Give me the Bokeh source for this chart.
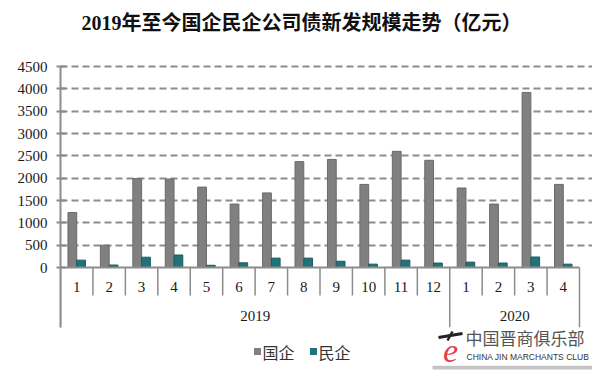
from bokeh.plotting import figure
from bokeh.models import Range1d, FixedTicker
from bokeh.core.properties import value
from bokeh.embed import file_html
from bokeh.resources import INLINE

# ---------------- data ----------------
title_text = "2019年至今国企民企公司债新发规模走势（亿元）"
months = ["1", "2", "3", "4", "5", "6", "7", "8", "9", "10", "11", "12", "1", "2", "3", "4"]
years = ["2019"] * 12 + ["2020"] * 4
soe = [1230, 500, 1990, 1980, 1800, 1420, 1670, 2370, 2420, 1860, 2600, 2400, 1780, 1420, 3920, 1860]
private = [165, 55, 230, 280, 50, 105, 210, 210, 140, 75, 165, 100, 120, 100, 235, 75]
series_names = ["国企", "民企"]
y_ticks = [0, 500, 1000, 1500, 2000, 2500, 3000, 3500, 4000, 4500]

GRAY = "#808080"
TEAL = "#22727a"

# ---------------- layout helpers (pixel -> data) ----------------
W, H = 592, 370
FL = 60                       # frame left in px
X0, XS = FL, 519.0 / 16       # px of x=0, px per category
Y0, YS = 267.0, 201.0 / 4500  # px of y=0, px per unit


def dx(px):
    return (px - X0) / XS


def dy(py):
    return (Y0 - py) / YS


n = len(months)
centers = [i + 0.5 for i in range(n)]

p = figure(width=W, height=H, output_backend="svg", toolbar_location=None,
           x_range=Range1d(0, dx(W)), y_range=Range1d(dy(H), dy(0)),
           x_axis_location=None, min_border_left=FL, min_border_right=0,
           min_border_top=0, min_border_bottom=0)
p.outline_line_color = None
p.background_fill_color = "white"
p.border_fill_color = "white"

# y axis
ax = p.yaxis[0]
ax.ticker = FixedTicker(ticks=y_ticks)
ax.bounds = (dy(327), 4500)
ax.axis_line_color = "#8c8c8c"
ax.axis_line_width = 2
ax.major_tick_line_color = "#8c8c8c"
ax.major_tick_line_width = 2
ax.major_tick_in = 5
ax.major_tick_out = 4
ax.minor_tick_line_color = None
ax.major_label_text_font = "Liberation Serif"
ax.major_label_text_font_size = "15px"
ax.major_label_text_color = "#1a1a1a"
ax.major_label_standoff = 9

p.xgrid.visible = False
g = p.ygrid[0]
g.ticker = FixedTicker(ticks=y_ticks[1:])
g.bounds = (0, n)
g.grid_line_color = "#8c8c8c"
g.grid_line_width = 2
g.grid_line_dash = "7 4"

# bars
bw = 0.27
p.vbar(x=[c - bw / 2 for c in centers], top=soe, width=bw, bottom=0,
       fill_color=GRAY, line_color="#6a6a6a", line_width=1)
p.vbar(x=[c + bw / 2 for c in centers], top=private, width=bw, bottom=0,
       fill_color=TEAL, line_color="#1a5c62", line_width=1)

# category axis: base line, separators, labels
p.segment(x0=[0], y0=[0], x1=[n], y1=[0], line_color="#8c8c8c", line_width=2)
inner = [i for i in range(1, n) if i != 12]
p.segment(x0=inner, y0=[0] * len(inner), x1=inner, y1=[dy(295)] * len(inner),
          line_color="#8c8c8c", line_width=1.5)
outer = [0, 12, n]
p.segment(x0=outer, y0=[0] * 3, x1=outer, y1=[dy(327)] * 3,
          line_color="#8c8c8c", line_width=1.5)
p.text(x=centers, y=[dy(286)] * n, text=months, text_align="center",
       text_baseline="middle", text_font=value("Liberation Serif"),
       text_font_size="15px", text_color="#1a1a1a")
year_names = ["2019", "2020"]
year_pos = [sum(1 for y in years if y == "2019") / 2,
            12 + sum(1 for y in years if y == "2020") / 2]
p.text(x=year_pos, y=[dy(315)] * 2, text=year_names, text_align="center",
       text_baseline="middle", text_font=value("Liberation Serif"),
       text_font_size="15px", text_color="#1a1a1a")

# title
p.text(x=[dx(301)], y=[dy(22)], text=[title_text], text_align="center",
       text_baseline="middle",
       text_font=value("'Liberation Serif', 'Noto Sans CJK SC'"),
       text_font_size="20px", text_font_style="bold", text_color="#111111")

# legend
p.scatter(x=[dx(257), dx(313)], y=[dy(351)] * 2, marker="square", size=7,
          fill_color=[GRAY, TEAL], line_color=None)
p.text(x=[dx(262), dx(318)], y=[dy(351)] * 2, text=series_names,
       text_align="left", text_baseline="middle",
       text_font=value("Noto Sans CJK SC"), text_font_size="16px",
       text_color="#333333")

# watermark
p.quad(left=[dx(432)], right=[dx(592)], top=[dy(365)], bottom=[dy(369)],
       fill_color="#b5b5b5", line_color=None, fill_alpha=0.8)
p.quad(left=[dx(430)], right=[dx(590)], top=[dy(327)], bottom=[dy(365)],
       fill_color="white", line_color=None)
p.text(x=[dx(450)], y=[dy(350)], text=["e"], text_align="center",
       text_baseline="middle", text_font=value("Liberation Serif"),
       text_font_size="34px", text_font_style="italic", text_color="#e2404a")
p.segment(x0=[dx(438)], y0=[dy(337)], x1=[dx(462)], y1=[dy(333)],
          line_color="#222222", line_width=3)
p.segment(x0=[dx(452)], y0=[dy(331)], x1=[dx(447)], y1=[dy(340)],
          line_color="#222222", line_width=2.5)
p.text(x=[dx(465)], y=[dy(337)], text=["中国晋商俱乐部"], text_align="left",
       text_baseline="middle", text_font=value("Noto Sans CJK SC"),
       text_font_size="17px", text_color="#555555")
p.text(x=[dx(466)], y=[dy(356)], text=["CHINA JIN MARCHANTS CLUB"],
       text_align="left", text_baseline="middle",
       text_font=value("Liberation Sans"), text_font_size="8.5px",
       text_color="#333333")

open("out.html", "w").write(file_html(p, INLINE))
